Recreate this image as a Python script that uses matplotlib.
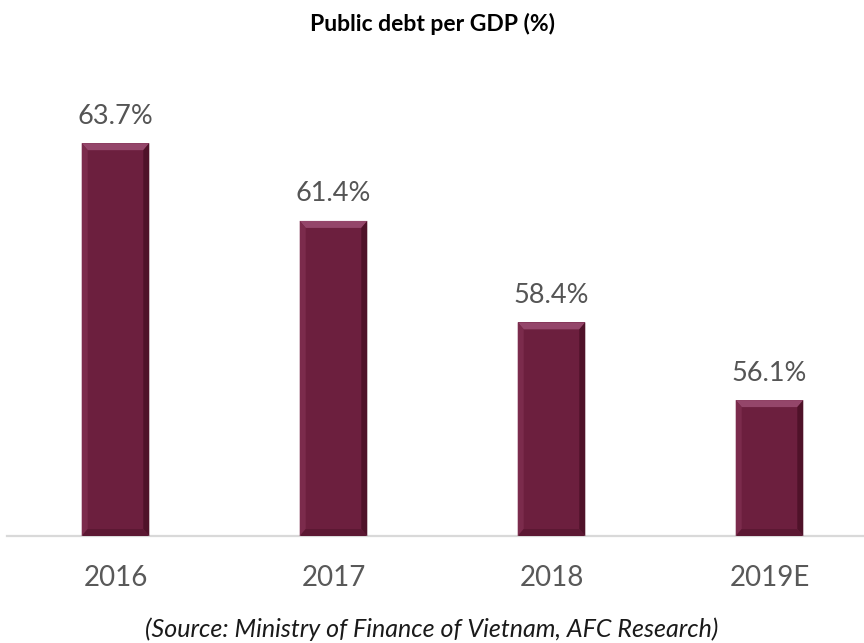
import matplotlib.pyplot as plt
from matplotlib.patches import Polygon

years = ["2016", "2017", "2018", "2019E"]
debt_pct = [63.7, 61.4, 58.4, 56.1]

BAR = "#6c1f3e"
FONT = "Lato"

fig = plt.figure(figsize=(8.64, 6.43), dpi=100)
ax = fig.add_axes([6.5 / 864, 107 / 643, 872 / 864, 476 / 643])

x = range(len(years))
bars = ax.bar(x, debt_pct, width=0.31, color=BAR, edgecolor="none", zorder=2)
ax.set_xlim(-0.5, len(years) - 0.5)
ax.set_ylim(52.08, 66.16)

# bevel: lighter top/left, darker right/bottom, sized in pixels
p0 = ax.transData.transform((0, 0))
p1 = ax.transData.transform((1, 1))
px_x = 1 / (p1[0] - p0[0])
px_y = 1 / (p1[1] - p0[1])
bx, by = 6 * px_x, 7 * px_y
y0 = ax.get_ylim()[0]
for b in bars:
    l, w, t = b.get_x(), b.get_width(), b.get_height()
    r = l + w
    faces = [
        ([(l, t), (r, t), (r - bx, t - by), (l + bx, t - by)], "#94466a"),
        ([(l, t), (l + bx, t - by), (l + bx, y0 + by), (l, y0)], "#7b2b4c"),
        ([(r, t), (r - bx, t - by), (r - bx, y0 + by), (r, y0)], "#4f1229"),
        ([(l, y0), (l + bx, y0 + by), (r - bx, y0 + by), (r, y0)], "#5c1833"),
    ]
    for pts, c in faces:
        ax.add_patch(Polygon(pts, closed=True, facecolor=c, edgecolor="none", zorder=3))
    ax.annotate(f"{t:.1f}%", (b.get_x() + w / 2, t), xytext=(0, 14),
                textcoords="offset points", ha="center", va="baseline",
                fontsize=19.5, color="#555555", family=FONT)

for s in ["left", "right", "top"]:
    ax.spines[s].set_visible(False)
ax.spines["bottom"].set_color("#d9d9d9")
ax.spines["bottom"].set_linewidth(1.6)
ax.set_yticks([])
ax.set_xticks(list(x))
ax.set_xticklabels(years, fontsize=20, color="#595959", family=FONT)
ax.tick_params(axis="x", length=0, pad=21)

fig.text(0.5, 1 - 31 / 643, "Public debt per GDP (%)", ha="center", va="baseline",
         fontsize=16.5, fontweight="bold", color="black", family=FONT)
fig.text(0.5, 1 - 637 / 643, "(Source: Ministry of Finance of Vietnam, AFC Research)",
         ha="center", va="baseline", fontsize=18, style="italic", color="#1a1a1a",
         family=FONT)

fig.savefig("out.png", dpi=100)
